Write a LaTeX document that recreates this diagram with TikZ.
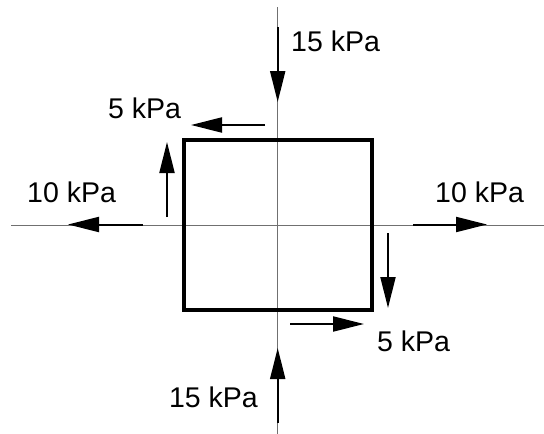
\documentclass[tikz,border=0pt]{standalone}
\usepackage{fontspec}
\setmainfont{Liberation Sans}
\usetikzlibrary{arrows.meta,positioning}
\definecolor{ink}{HTML}{000000}
\definecolor{axisgray}{HTML}{707070}
\tikzset{
  figbase/.style={x=1pt, y=-1pt, line cap=butt},
  axisline/.style={draw=axisgray, line width=0.9pt},
  element/.style={draw=ink, line width=4pt, minimum width=188pt, minimum height=170pt, inner sep=0pt},
  force/.style={-{Triangle[length=31pt,width=15pt]}, draw=ink, line width=2pt},
  lab/.style={font=\fontsize{28.5}{30}\selectfont, text=ink, inner sep=0pt},
}
\begin{document}
\begin{tikzpicture}[figbase]
  \useasboundingbox (0,0) rectangle (544,434);

  % axes
  \coordinate (axw) at (11,225);
  \coordinate (axe) at (544,225);
  \coordinate (axn) at (277.7,7);
  \coordinate (axs) at (277.7,434);
  \draw[axisline] (axw) -- (axe);
  \draw[axisline] (axn) -- (axs);

  % stress element
  \node[element] (elem) at (277.7,225) {};

  % normal stresses
  \coordinate (ntop0) at (277.7,27);   \coordinate (ntop1) at (277.7,102);
  \coordinate (nbot0) at (277.7,423);  \coordinate (nbot1) at (277.7,348);
  \coordinate (nlft0) at (143,224.5);  \coordinate (nlft1) at (68,224.5);
  \coordinate (nrgt0) at (413,224.5);  \coordinate (nrgt1) at (487,224.5);
  \draw[force] (ntop0) -- (ntop1);
  \draw[force] (nbot0) -- (nbot1);
  \draw[force] (nlft0) -- (nlft1);
  \draw[force] (nrgt0) -- (nrgt1);

  % shear stresses
  \coordinate (stop0) at (265,125);    \coordinate (stop1) at (191,125);
  \coordinate (slft0) at (167,217);    \coordinate (slft1) at (167,142);
  \coordinate (srgt0) at (388,233);    \coordinate (srgt1) at (388,308);
  \coordinate (sbot0) at (290,324);    \coordinate (sbot1) at (364,324);
  \draw[force] (stop0) -- (stop1);
  \draw[force] (slft0) -- (slft1);
  \draw[force] (srgt0) -- (srgt1);
  \draw[force] (sbot0) -- (sbot1);

  % labels
  \node[lab, anchor=west] (ltop) at (291,41) {15 kPa};
  \node[lab, anchor=east] (lbot) at (258,397) {15 kPa};
  \node[lab, anchor=west] (llft) at (27,192) {10 kPa};
  \node[lab, anchor=west] (lrgt) at (435,192) {10 kPa};
  \node[lab, anchor=west] (lstop) at (108,108) {5 kPa};
  \node[lab, anchor=west] (lsbot) at (377,341) {5 kPa};
\end{tikzpicture}
\end{document}
